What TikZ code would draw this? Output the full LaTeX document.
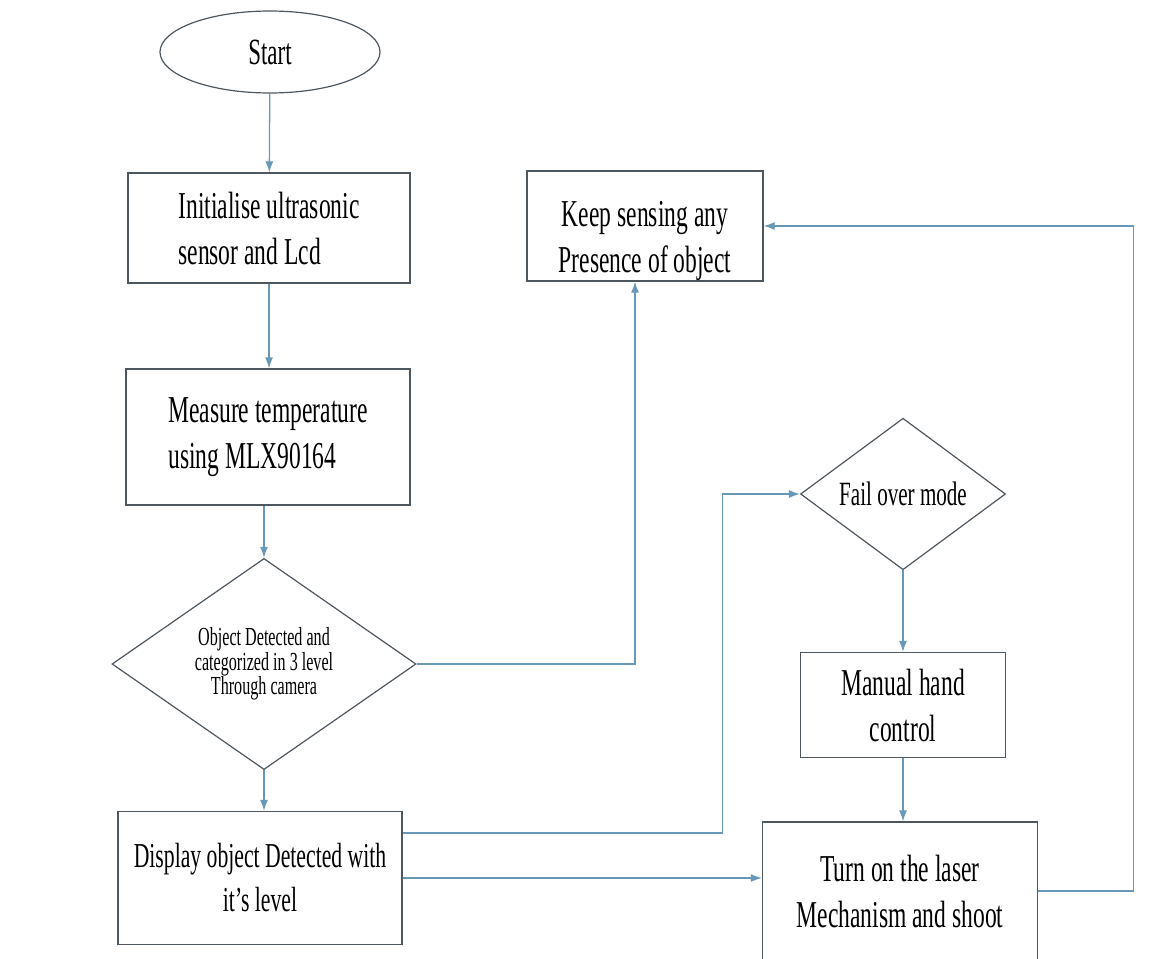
\documentclass[tikz,border=0pt]{standalone}
\usepackage{fontspec}
\setmainfont{Liberation Serif}[FakeStretch=0.62]
\usepackage{tikz}
\usetikzlibrary{calc,arrows,arrows.meta,shapes.geometric}
\definecolor{flowblue}{RGB}{104,152,184}
\definecolor{boxgrey}{RGB}{78,86,94}

\tikzset{
  procbox/.style={draw=boxgrey,line width=1.3pt,rectangle,inner sep=0pt,
    font=\fontsize{38}{46}\selectfont},
  decide/.style={draw=boxgrey,line width=1.2pt,diamond,inner sep=0pt,aspect=1},
  terminal/.style={draw=boxgrey,line width=1.2pt,ellipse,inner sep=0pt,
    minimum width=220pt,minimum height=82pt,font=\fontsize{37}{44}\selectfont},
  flow/.style={draw=flowblue,line width=1.3pt,-{Latex[length=11pt,width=8pt]}}
}

\begin{document}
\begin{tikzpicture}[x=1pt,y=-1pt]
    \useasboundingbox (0,0) rectangle (1174,958);
    % left column
    \node[terminal] (start) at (270,52) {Start};
    \node[procbox,minimum width=282pt,minimum height=110pt,align=left]
      (init) at (269,228) {Initialise ultrasonic\\sensor and Lcd};
    \node[procbox,minimum width=284pt,minimum height=136pt,align=left]
      (measure) at (268,437) {Measure temperature\\using MLX90164};
    \node[decide,minimum width=304pt,minimum height=204pt,align=center,
      font=\fontsize{26}{23}\selectfont]
      (detect) at (264,664) {Object Detected and\\categorized in 3 level\\Through camera};
    \node[procbox,minimum width=284pt,minimum height=133pt,align=center,
      font=\fontsize{35}{44}\selectfont]
      (display) at (260,878) {Display object Detected with\\it's level};
    % right part
    \node[procbox,minimum width=236pt,minimum height=108pt,align=center]
      (keep) at (645,226) {\rule{0pt}{56pt}Keep sensing any\\Presence of object};
    \node[decide,minimum width=205pt,minimum height=148pt,
      font=\fontsize{34}{40}\selectfont]
      (fail) at (903,494) {Fail over mode};
    \node[procbox,minimum width=205pt,minimum height=105pt,align=center]
      (manual) at (903,705) {Manual hand\\control};
    \node[procbox,minimum width=275pt,minimum height=138pt,align=center]
      (laser) at (900,891) {Turn on the laser\\Mechanism and shoot};

    \draw[flow] (start) -- (init);
    \draw[flow] (init) -- (init.south |- measure.north);
    \draw[flow] ([xshift=-4pt]measure.south) -- (detect.north);
    \draw[flow] (detect) -- (detect.south |- display.north);
    \draw[flow] (detect.east) -| ([xshift=-10pt]keep.south);
    \draw[flow] ([yshift=45pt]display.east) -- ++(320,0) |- (fail.west);
    \draw[flow] (display.east) -- (display.east -| laser.west);
    \draw[flow] (fail) -- (manual);
    \draw[flow] (manual) -- (manual.south |- laser.north);
    \draw[flow] (laser.east) -- ++(95,0) |- (keep.east);
  \end{tikzpicture}
\end{document}
